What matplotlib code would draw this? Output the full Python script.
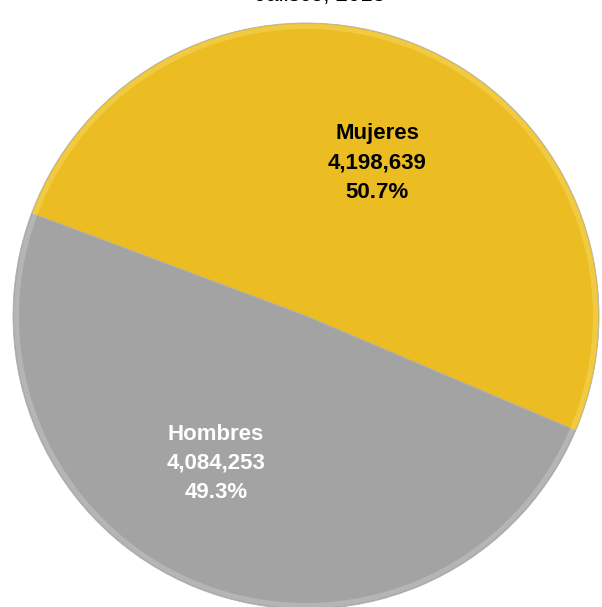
import numpy as np
import matplotlib.pyplot as plt

labels = ["Mujeres", "Hombres"]
values = [4198639, 4084253]
pcts = ["50.7%", "49.3%"]
colors = ["#EBBD22", "#A3A3A3"]
txt_colors = ["black", "white"]

plt.rcParams['font.family'] = ['Liberation Sans', 'DejaVu Sans']

fig = plt.figure(figsize=(6.02, 6.07), dpi=100)
ax = fig.add_axes([0, 0, 1, 1])

cx, cy, r = 306, 291, 293

wedges, _ = ax.pie(values, colors=colors, startangle=-23, counterclock=True,
                   radius=r, center=(cx, cy), frame=True,
                   wedgeprops=dict(edgecolor="#b0b0b0", linewidth=0.6))

# bevel highlight near the rim
light = ["#F5D457", "#C2C2C2"]
ax.pie(values, colors=light, startangle=-23, counterclock=True,
       radius=r - 1, center=(cx, cy), frame=True,
       wedgeprops=dict(width=5, linewidth=0, alpha=0.6))
ax.set_xlim(0, 602)
ax.set_ylim(0, 607)
ax.set_aspect('equal')
ax.axis('off')

ax.text(377, 607 - 163, f"{labels[0]}\n{values[0]:,}\n{pcts[0]}", ha='center', va='center',
        fontsize=16, fontweight='bold', color=txt_colors[0], linespacing=1.5)
ax.text(216, 607 - 463, f"{labels[1]}\n{values[1]:,}\n{pcts[1]}", ha='center', va='center',
        fontsize=16, fontweight='bold', color=txt_colors[1], linespacing=1.5)

ax.text(320, 607 + 5, "Jalisco, 2018", ha='center', va='center', fontsize=16)

fig.savefig("out.png", dpi=100)
